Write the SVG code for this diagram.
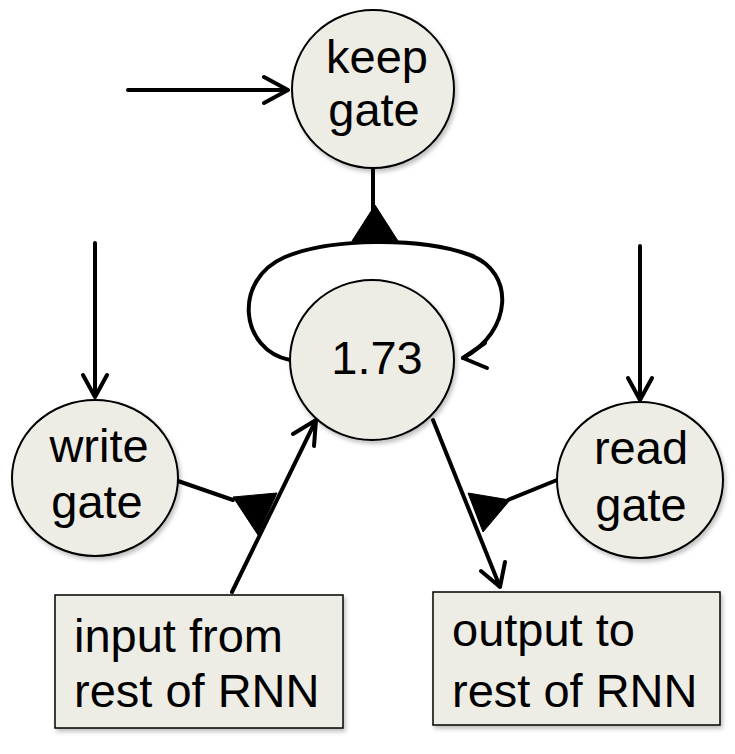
<svg xmlns="http://www.w3.org/2000/svg" width="735" height="754" viewBox="0 0 735 754">
<defs>
<filter id="sh" x="-20%" y="-20%" width="140%" height="140%">
<feDropShadow dx="2" dy="3" stdDeviation="2" flood-color="#000" flood-opacity="0.25"/>
</filter>
</defs>
<style>
.node{fill:#EEEDE5;stroke:#000;stroke-width:2;filter:url(#sh)}
.t{font-family:"Liberation Sans",Arial,sans-serif;font-size:47px;fill:#000}
.c{text-anchor:middle}
.ln{fill:none;stroke:#000;stroke-width:4;stroke-linecap:round;stroke-linejoin:round}
.tri{fill:#000;stroke:#000;stroke-width:1}
</style>
<rect width="735" height="754" fill="#fff"/>
<g id="connectors">
<path class="ln" d="M128 90 H288 M264 77 L288 90 L264 103"/>
<path class="ln" d="M95 243 V397 M83 375 L95 397 L107 375"/>
<path class="ln" d="M640 246 V400 M628 378 L640 400 L652 378"/>
<path class="ln" d="M373 168 V215"/>
<polygon class="tri" points="375,205 352,241 398,241"/>
<path class="ln" d="M290 360 C240 350 232 280 285 257 C330 238 420 237 470 255 C516 272 512 332 463 358"/>
<path class="ln" d="M485 343 L463 358 L487 368"/>
<path class="ln" d="M232 592 L316 420 M293 434 L316 420 L314 446"/>
<path class="ln" d="M178 481 L233 500"/>
<polygon class="tri" points="233,497 277,493 258,535"/>
<path class="ln" d="M433 420 L500 587 M481 571 L500 587 L505 562"/>
<path class="ln" d="M557 480 L508 500"/>
<polygon class="tri" points="468,493 510,500 483,532"/>
</g>
<g id="keep-gate">
<ellipse class="node" cx="373" cy="89" rx="81" ry="79"/>
<text class="t c" x="377" y="73">keep</text>
<text class="t c" x="374" y="126">gate</text>
</g>
<g id="cell">
<ellipse class="node" cx="372" cy="360" rx="82" ry="80"/>
<text class="t c" x="377" y="374">1.73</text>
</g>
<g id="write-gate">
<ellipse class="node" cx="95" cy="478" rx="83" ry="78"/>
<text class="t c" x="99" y="462">write</text>
<text class="t c" x="97" y="518">gate</text>
</g>
<g id="read-gate">
<ellipse class="node" cx="640" cy="480" rx="83" ry="78"/>
<text class="t c" x="641" y="464">read</text>
<text class="t c" x="641" y="521">gate</text>
</g>
<g id="input-box">
<rect class="node" x="55" y="595" width="288" height="133" style="stroke-width:1.5"/>
<text class="t" x="74" y="652">input from</text>
<text class="t" x="74" y="707">rest of RNN</text>
</g>
<g id="output-box">
<rect class="node" x="433" y="592" width="287" height="133" style="stroke-width:1.5"/>
<text class="t" x="452" y="646">output to</text>
<text class="t" x="452" y="707">rest of RNN</text>
</g>
</svg>
